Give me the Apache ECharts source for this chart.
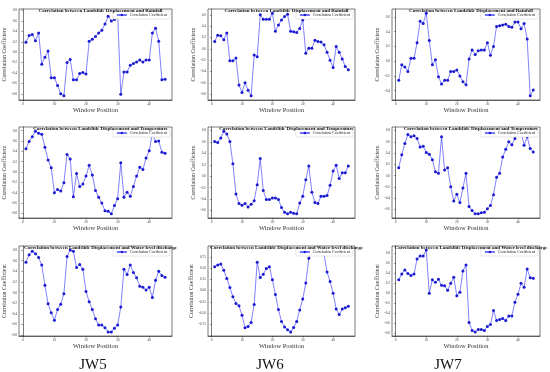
<!DOCTYPE html>
<html><head><meta charset="utf-8">
<script src="https://cdn.jsdelivr.net/npm/echarts@6/dist/echarts.min.js"></script>
<style>html,body{margin:0;padding:0;background:#fff}#c{width:550px;height:372px}</style>
</head><body><div id="c"></div>
<script>
const windowPos = [1,2,3,4,5,6,7,8,9,10,11,12,13,14,15,16,17,18,19,20,21,22,23,24,25,26,27,28,29,30,31,32,33,34,35,36,37,38,39,40,41,42,43,44,45];

const jw5Rain = [0.19,0.32,0.34,0.22,0.37,-0.23,-0.10,0.02,-0.49,-0.49,-0.64,-0.80,-0.84,-0.20,-0.14,-0.53,-0.53,-0.41,-0.39,-0.42,0.21,0.25,0.30,0.37,0.42,0.54,0.69,0.60,0.63,0.75,-0.81,-0.38,-0.38,-0.25,-0.22,-0.19,-0.15,-0.19,-0.15,-0.15,0.37,0.46,0.21,-0.53,-0.52];
const jw6Rain = [0.13,0.24,0.23,0.16,0.28,-0.21,-0.21,-0.16,-0.64,-0.77,-0.60,-0.73,-0.83,-0.11,-0.14,0.60,0.52,0.52,0.52,0.63,0.31,0.42,0.51,0.57,0.61,0.31,0.30,0.29,0.36,0.51,-0.08,0.01,0.01,0.15,0.13,0.12,0.07,-0.06,-0.20,-0.33,0.04,-0.06,-0.18,-0.31,-0.37];
const jw7Rain = [-0.26,-0.05,-0.08,-0.14,0.04,0.04,0.25,0.54,0.51,0.65,0.28,-0.05,0.02,-0.21,-0.31,-0.26,-0.26,-0.14,-0.14,-0.12,-0.20,-0.28,-0.32,0.03,0.15,0.09,0.14,0.15,0.15,0.25,0.08,0.20,0.47,0.48,0.49,0.50,0.47,0.46,0.53,0.53,0.44,0.51,0.30,-0.47,-0.39];

const jw5Temp = [0.45,0.59,0.68,0.79,0.75,0.73,0.48,0.23,0.08,-0.40,-0.34,-0.37,-0.21,0.34,0.25,-0.48,-0.03,-0.28,-0.23,-0.08,0.13,-0.06,-0.36,-0.49,-0.60,-0.75,-0.76,-0.81,-0.65,-0.52,0.18,-0.49,-0.39,-0.47,-0.28,-0.08,0.09,0.05,0.27,0.41,0.75,0.59,0.60,0.38,0.36];
const jw6Temp = [0.61,0.59,0.67,0.79,0.74,0.61,0.22,-0.31,-0.48,-0.51,-0.48,-0.54,-0.49,-0.43,-0.15,0.31,-0.25,-0.41,-0.41,-0.38,-0.38,-0.41,-0.55,-0.63,-0.66,-0.63,-0.65,-0.66,-0.47,-0.35,-0.06,0.18,-0.28,-0.46,-0.48,-0.35,-0.35,-0.34,-0.16,0.09,0.19,-0.04,0.06,0.06,0.18];
const jw7Temp = [0.14,0.37,0.57,0.73,0.69,0.71,0.66,0.51,0.52,0.41,0.38,0.28,0.07,0.04,0.69,0.10,0.14,-0.20,-0.45,-0.33,-0.48,-0.22,0.04,-0.55,-0.62,-0.68,-0.68,-0.66,-0.65,-0.59,-0.53,-0.34,-0.03,0.04,0.33,0.47,0.60,0.55,0.66,0.78,0.79,0.54,0.69,0.48,0.42];

const jw5Water = [0.57,0.71,0.78,0.73,0.66,0.52,0.14,-0.21,-0.38,-0.52,-0.32,-0.22,-0.02,0.68,0.80,0.78,0.47,0.53,0.44,0.02,-0.17,-0.32,-0.49,-0.61,-0.61,-0.66,-0.74,-0.74,-0.67,-0.61,-0.27,0.44,0.34,0.52,0.38,0.28,0.12,0.10,0.05,0.10,-0.09,0.23,0.40,0.32,0.29];
const jw6Water = [0.53,0.57,0.59,0.45,0.27,0.07,-0.14,-0.29,-0.34,-0.55,-0.83,-0.80,-0.71,-0.31,0.63,0.29,0.36,0.49,0.53,0.24,-0.09,-0.42,-0.69,-0.81,-0.87,-0.92,-0.82,-0.69,-0.43,-0.19,0.17,0.72,0.86,0.89,0.88,0.90,0.81,0.41,0.20,-0.06,-0.41,-0.53,-0.41,-0.38,-0.35];
const jw7Water = [0.27,0.39,0.47,0.40,0.36,0.39,0.69,0.75,0.75,0.87,0.00,0.27,0.22,0.28,0.16,0.15,0.06,0.20,0.32,-0.05,0.02,0.45,0.57,-0.59,-0.75,-0.78,-0.73,-0.73,-0.75,-0.67,-0.63,-0.35,-0.55,-0.53,-0.51,-0.55,-0.46,-0.46,-0.18,-0.02,0.20,0.12,0.49,0.31,0.30];

const panelSeries = [jw5Rain, jw6Rain, jw7Rain, jw5Temp, jw6Temp, jw7Temp, jw5Water, jw6Water, jw7Water];

const rowTitles = [
  'Correlation between Landslide Displacement and Rainfall',
  'Correlation between Landslide Displacement and Temperature',
  'Correlation between Landslide Displacement and Water level discharge'
];
const xTicks = [0, 10, 20, 30, 40];
const yTicks = [
  [-0.8,-0.6,-0.4,-0.2,0,0.2,0.4,0.6,0.8],
  [-0.8,-0.6,-0.4,-0.2,0,0.2,0.4,0.6],
  [-0.4,-0.2,0,0.2,0.4,0.6],
  [-0.8,-0.6,-0.4,-0.2,0,0.2,0.4,0.6,0.8],
  [-0.6,-0.4,-0.2,0,0.2,0.4,0.6,0.8],
  [-0.6,-0.4,-0.2,0,0.2,0.4,0.6,0.8],
  [-0.8,-0.6,-0.4,-0.2,0,0.2,0.4,0.6,0.8],
  [-0.75,-0.5,-0.25,0,0.25,0.5,0.75],
  [-0.8,-0.6,-0.4,-0.2,0,0.2,0.4,0.6,0.8]
];
const yDecimals = [1,1,1,1,1,1,1,2,1];
const wellLabels = ['JW5', 'JW6', 'JW7'];
const seriesName = 'Correlation Coefficient';
const xName = 'Window Position';

const cols = [{left: 19, width: 153, nameGap: 9}, {left: 208, width: 147, nameGap: 10}, {left: 392, width: 148, nameGap: 9}];
const rows = [{top: 9, height: 91}, {top: 127, height: 91}, {top: 246, height: 90}];
const titleTops = [3, 121, 240];

const serif = 'Liberation Serif, DejaVu Serif, serif';
const grids = [], xAxes = [], yAxes = [], series = [], titles = [], legends = [];

for (let r = 0; r < 3; r++) {
  for (let c = 0; c < 3; c++) {
    const i = r * 3 + c;
    const g = {left: cols[c].left, width: cols[c].width, top: rows[r].top, height: rows[r].height};
    grids.push(Object.assign({show: true, borderColor: '#222', borderWidth: 0.6, backgroundColor: '#fff'}, g));
    xAxes.push({
      type: 'value', gridIndex: i, min: -1.2, max: 47.2,
      name: xName, nameLocation: 'middle', nameGap: 6,
      nameTextStyle: {fontFamily: serif, fontSize: 6.5, color: '#333'},
      axisLine: {show: true, onZero: false, lineStyle: {color: '#222', width: 0.6}},
      axisTick: {show: true, length: 1.5, customValues: xTicks, lineStyle: {color: '#222', width: 0.5}},
      axisLabel: {customValues: xTicks, fontSize: 3.5, fontFamily: serif, color: '#444', margin: 2},
      splitLine: {show: false}
    });
    const dec = yDecimals[i];
    yAxes.push({
      type: 'value', gridIndex: i,
      min: v => v.min - (v.max - v.min) * 0.05,
      max: v => v.max + (v.max - v.min) * 0.05,
      name: seriesName, nameLocation: 'middle', nameGap: cols[c].nameGap,
      nameTextStyle: {fontFamily: serif, fontSize: 5.8, color: '#333'},
      axisLine: {show: true, lineStyle: {color: '#222', width: 0.6}},
      axisTick: {show: true, length: 1.5, customValues: yTicks[i], lineStyle: {color: '#222', width: 0.5}},
      axisLabel: {customValues: yTicks[i], fontSize: 3.5, fontFamily: serif, color: '#444', margin: 2,
        formatter: v => v.toFixed(dec)},
      splitLine: {show: false}
    });
    series.push({
      type: 'line', name: seriesName, xAxisIndex: i, yAxisIndex: i,
      data: windowPos.map((x, k) => [x, panelSeries[i][k]]),
      symbol: 'circle', symbolSize: 3,
      lineStyle: {color: 'rgba(40,40,255,0.65)', width: 0.9},
      itemStyle: {color: '#1a1ad0'},
      emphasis: {disabled: true}, animation: false
    });
    titles.push({
      text: rowTitles[r], left: g.left + g.width / 2, top: titleTops[r], textAlign: 'center',
      textStyle: {fontFamily: serif, fontSize: 5, fontWeight: 'bold', color: '#111'}
    });
    legends.push({
      data: [seriesName], right: 550 - (g.left + g.width) + 2, top: g.top + 2,
      orient: 'vertical', itemWidth: 10, itemHeight: 3, itemGap: 2,
      padding: [2, 3], borderColor: '#ccc', borderWidth: 0.5, borderRadius: 1,
      backgroundColor: '#fff',
      textStyle: {fontFamily: serif, fontSize: 4, color: '#222', padding: [0, 0, 0, -2]}
    });
  }
}

const jwCenters = [88, 265, 443];
wellLabels.forEach((t, c) => {
  titles.push({text: t, left: jwCenters[c], top: 353, textAlign: 'center',
    textStyle: {fontFamily: serif, fontSize: 15, fontWeight: 'normal', color: '#111'}});
});

const chart = echarts.init(document.getElementById('c'), null, {renderer: 'canvas'});
chart.setOption({
  backgroundColor: '#fff', animation: false,
  title: titles, legend: legends, grid: grids, xAxis: xAxes, yAxis: yAxes, series: series
});
</script></body></html>
